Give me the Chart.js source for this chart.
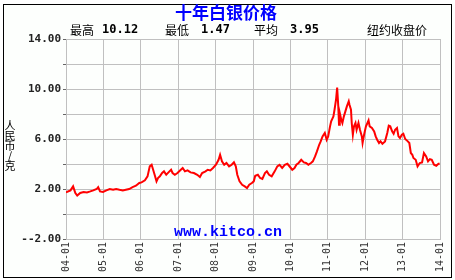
<!DOCTYPE html>
<html>
<head>
<meta charset="utf-8">
<script src="https://cdn.jsdelivr.net/npm/chart.js@4"></script>
<style>
  html, body { margin: 0; padding: 0; background: #fff; }
  #wrap { width: 455px; height: 280px; position: relative; }
</style>
</head>
<body>
<div id="wrap"><canvas id="silver-chart" width="455" height="280"></canvas></div>
<script>
// silver price, RMB per gram
const years = [
  2004.00, 2004.12, 2004.19, 2004.25, 2004.30, 2004.38, 2004.47, 2004.56, 2004.65, 2004.73,
  2004.82, 2004.86, 2004.91, 2004.99, 2005.08, 2005.17, 2005.26, 2005.34, 2005.43, 2005.52,
  2005.60, 2005.69, 2005.78, 2005.87, 2005.96, 2006.02, 2006.11, 2006.18, 2006.24, 2006.29,
  2006.33, 2006.37, 2006.42, 2006.46, 2006.51, 2006.57, 2006.62, 2006.68, 2006.74, 2006.81,
  2006.85, 2006.91, 2006.98, 2007.07, 2007.12, 2007.18, 2007.25, 2007.33, 2007.42, 2007.51,
  2007.58, 2007.64, 2007.73, 2007.79, 2007.86, 2007.93, 2008.01, 2008.08, 2008.12, 2008.17,
  2008.23, 2008.29, 2008.36, 2008.43, 2008.49, 2008.54, 2008.58, 2008.64, 2008.71, 2008.78,
  2008.84, 2008.90, 2008.97, 2009.02, 2009.06, 2009.13, 2009.19, 2009.25, 2009.32, 2009.37,
  2009.43, 2009.50, 2009.58, 2009.65, 2009.71, 2009.78, 2009.85, 2009.92, 2009.99, 2010.05,
  2010.11, 2010.16, 2010.22, 2010.29, 2010.36, 2010.42, 2010.48, 2010.55, 2010.60, 2010.66,
  2010.71, 2010.77, 2010.81, 2010.86, 2010.92, 2010.97, 2011.01, 2011.06, 2011.09, 2011.15,
  2011.18, 2011.22, 2011.25, 2011.28, 2011.30, 2011.32, 2011.36, 2011.39, 2011.43, 2011.47,
  2011.51, 2011.56, 2011.58, 2011.62, 2011.64, 2011.67, 2011.70, 2011.74, 2011.77, 2011.82,
  2011.86, 2011.91, 2011.93, 2011.97, 2012.02, 2012.06, 2012.09, 2012.12, 2012.18, 2012.24,
  2012.28, 2012.32, 2012.37, 2012.41, 2012.46, 2012.53, 2012.59, 2012.63, 2012.67, 2012.72,
  2012.76, 2012.80, 2012.85, 2012.89, 2012.93, 2012.98, 2013.02, 2013.07, 2013.14, 2013.18,
  2013.22, 2013.26, 2013.29, 2013.35, 2013.40, 2013.46, 2013.52, 2013.57, 2013.63, 2013.68,
  2013.73, 2013.78, 2013.84, 2013.90, 2013.96, 2013.99
];
const prices = [
  1.73, 1.89, 2.21, 1.68, 1.47, 1.68, 1.76, 1.73, 1.81, 1.89,
  2.00, 2.15, 1.81, 1.76, 1.89, 2.00, 1.94, 2.00, 1.94, 1.89,
  1.94, 2.00, 2.15, 2.26, 2.48, 2.53, 2.69, 3.01, 3.81, 3.94,
  3.54, 3.14, 2.61, 2.88, 3.01, 3.28, 3.41, 3.14, 3.33, 3.54,
  3.28, 3.14, 3.28, 3.54, 3.68, 3.41, 3.49, 3.33, 3.28, 3.14,
  2.96, 3.28, 3.41, 3.54, 3.49, 3.68, 3.94, 4.34, 4.74, 4.21,
  3.94, 4.08, 3.81, 3.94, 4.13, 3.81, 3.14, 2.61, 2.34, 2.21,
  2.08, 2.34, 2.48, 2.61, 3.06, 3.14, 2.88, 2.80, 3.28, 3.41,
  3.14, 3.01, 3.41, 3.81, 3.94, 3.68, 3.94, 4.02, 3.76, 3.54,
  3.68, 3.94, 4.08, 4.34, 4.13, 4.08, 3.94, 4.08, 4.21, 4.61,
  5.01, 5.54, 5.81, 6.21, 6.48, 5.94, 6.21, 7.01, 7.41, 7.81,
  8.34, 9.14, 10.12, 8.61, 7.14, 8.08, 7.54, 7.28, 7.81, 8.21,
  8.61, 9.01, 8.74, 8.34, 7.28, 6.34, 7.01, 7.28, 6.74, 7.28,
  6.74, 6.21, 5.68, 6.34, 7.01, 7.28, 7.49, 7.01, 6.88, 6.61,
  6.21, 5.94, 5.68, 5.81, 5.62, 5.81, 6.48, 7.06, 7.01, 6.61,
  6.42, 6.74, 6.88, 6.21, 6.08, 6.34, 6.42, 6.00, 5.81, 5.68,
  4.88, 4.74, 4.48, 4.34, 3.81, 4.08, 4.13, 4.88, 4.61, 4.21,
  4.39, 4.34, 3.94, 3.86, 4.02, 4.02
];
const yLabelled = [14, 10, 6, 2, -2];   // only these levels get a label
const yTitle = ['人', '民', '币', '/', '克'];

// frame, titles and watermark
const decorations = {
  id: 'decorations',
  beforeDraw(chart) {
    const c = chart.ctx;
    c.save();
    c.fillStyle = '#fdfffd';
    c.fillRect(3, 4, 449, 274);
    c.restore();
  },
  afterDraw(chart) {
    const c = chart.ctx;
    c.save();
    c.strokeStyle = '#000';
    c.lineWidth = 1;
    c.strokeRect(3.5, 4.5, 448, 273);

    c.textBaseline = 'middle';
    c.fillStyle = '#0000ff';
    c.textAlign = 'center';
    c.font = 'bold 17px "Noto Sans CJK SC"';
    c.fillText('十年白银价格', 226, 13);

    c.fillStyle = '#000';
    c.textAlign = 'left';
    c.font = '12px "Noto Sans CJK SC"';
    c.fillText('最高', 70, 30);
    c.fillText('最低', 165, 30);
    c.fillText('平均', 254, 30);
    c.fillText('纽约收盘价', 367, 30);
    c.font = 'bold 12px "DejaVu Sans Mono"';
    c.fillText('10.12', 102, 30);
    c.fillText('1.47', 201, 30);
    c.fillText('3.95', 290, 30);

    c.textAlign = 'center';
    c.font = '11px "Noto Sans CJK SC"';
    yTitle.forEach((ch, i) => c.fillText(ch, 10, 126 + i * 10));

    c.fillStyle = '#0000ff';
    c.font = 'bold 15px "Liberation Mono"';
    c.fillText('www.kitco.cn', 228, 232);
    c.restore();
  }
};

const ctx = document.getElementById('silver-chart').getContext('2d');
new Chart(ctx, {
  type: 'line',
  data: {
    datasets: [{
      data: years.map((y, i) => ({ x: y, y: prices[i] })),
      borderColor: '#ff0000',
      borderWidth: 2,
      pointRadius: 0,
      tension: 0,
      fill: false
    }]
  },
  options: {
    responsive: false,
    animation: false,
    layout: { padding: { top: 39, right: 7, left: 0, bottom: 0 } },
    plugins: { legend: { display: false }, tooltip: { enabled: false } },
    scales: {
      x: {
        type: 'linear',
        min: 2004,
        max: 2014,
        afterFit(scale) { scale.height = 41; },
        afterBuildTicks(scale) {
          scale.ticks = [];
          for (let y = 2004; y <= 2014; y++) scale.ticks.push({ value: y });
        },
        ticks: {
          minRotation: 90,
          maxRotation: 90,
          padding: 3,
          color: '#333',
          font: { family: 'DejaVu Sans Mono', size: 10 },
          callback: v => String(v % 100).padStart(2, '0') + '-01'
        },
        grid: { color: '#c0c0c0', drawTicks: false },
        border: { color: '#c0c0c0' }
      },
      y: {
        min: -2,
        max: 14,
        afterFit(scale) { scale.width = 66; },
        ticks: {
          stepSize: 2,
          padding: 2,
          color: '#222',
          font: { family: 'DejaVu Sans Mono', size: 11, weight: 'bold' },
          callback: v => yLabelled.includes(v) ? (v < 0 ? '-' + v.toFixed(2) : v.toFixed(2)) : ''
        },
        grid: { color: '#c0c0c0', tickLength: 3, tickColor: '#666' },
        border: { color: '#c0c0c0' }
      }
    }
  },
  plugins: [decorations]
});
</script>
</body>
</html>
